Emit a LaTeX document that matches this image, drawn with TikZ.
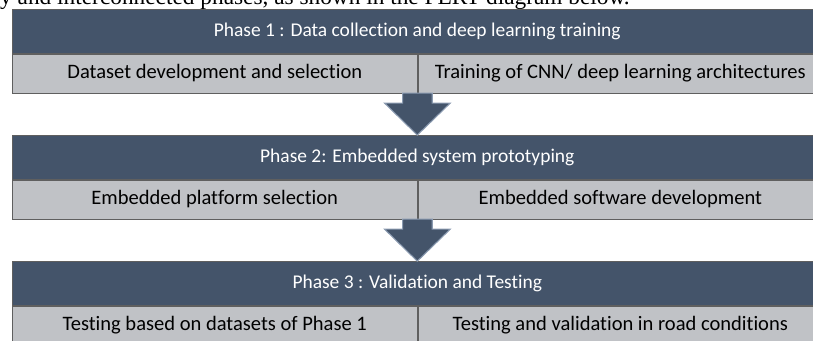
\documentclass[tikz,border=0pt]{standalone}
\usepackage{fontspec}
\setmainfont{Carlito}[Ligatures=NoCommon]
\newfontfamily\captext{Liberation Serif}
\usetikzlibrary{positioning}
\definecolor{phasebg}{HTML}{44546A}
\definecolor{taskbg}{HTML}{C0C2C6}
\definecolor{edgegray}{HTML}{5F5F5F}
\definecolor{arrowedge}{HTML}{8A9AB0}

\begin{document}
\begin{tikzpicture}[
  x=0.75pt, y=-0.75pt,
  phase/.style={draw=edgegray, fill=phasebg, text=white, minimum width=607.5pt, minimum height=33pt, inner sep=0pt, font=\fontsize{14.6}{17}\selectfont},
  task/.style={draw=edgegray, fill=taskbg, minimum width=303.75pt, minimum height=29.25pt, inner sep=0pt, font=\fontsize{15.4}{18}\selectfont},
  down/.style={fill=phasebg, draw=arrowedge, line width=0.8pt, line join=miter}
]
\clip (0,0) rectangle (813,340);
\node[anchor=base west, font=\captext\fontsize{17.5}{20}\selectfont] (intro) at (13,4) {\llap{y }and interconnected phases, as shown in the PERT diagram below.};
\node[phase, anchor=north west] (p1) at (12,9) {Phase 1 : Data collection and deep learning training};
\node[task, below=0pt of p1.south west, anchor=north west] (p1a) {Dataset development and selection};
\node[task, right=0pt of p1a] (p1b) {Training of CNN/ deep learning architectures};
\node[phase, below=31.5pt of p1a.south west, anchor=north west] (p2) {Phase 2: Embedded system prototyping};
\node[task, below=0pt of p2.south west, anchor=north west] (p2a) {Embedded platform selection};
\node[task, right=0pt of p2a] (p2b) {Embedded software development};
\node[phase, below=31.5pt of p2a.south west, anchor=north west] (p3) {Phase 3 : Validation and Testing};
\node[task, below=0pt of p3.south west, anchor=north west] (p3a) {Testing based on datasets of Phase 1};
\node[task, right=0pt of p3a] (p3b) {Testing and validation in road conditions};
\filldraw[down] (p1a.south east) ++(-15,0) -- ++(0,10) -- ++(-18,0) -- (p2.north) -- ++(33,-32) -- ++(-18,0) -- ++(0,-10) -- cycle;
\filldraw[down] (p2a.south east) ++(-15,0) -- ++(0,10) -- ++(-18,0) -- (p3.north) -- ++(33,-32) -- ++(-18,0) -- ++(0,-10) -- cycle;
\end{tikzpicture}
\end{document}
